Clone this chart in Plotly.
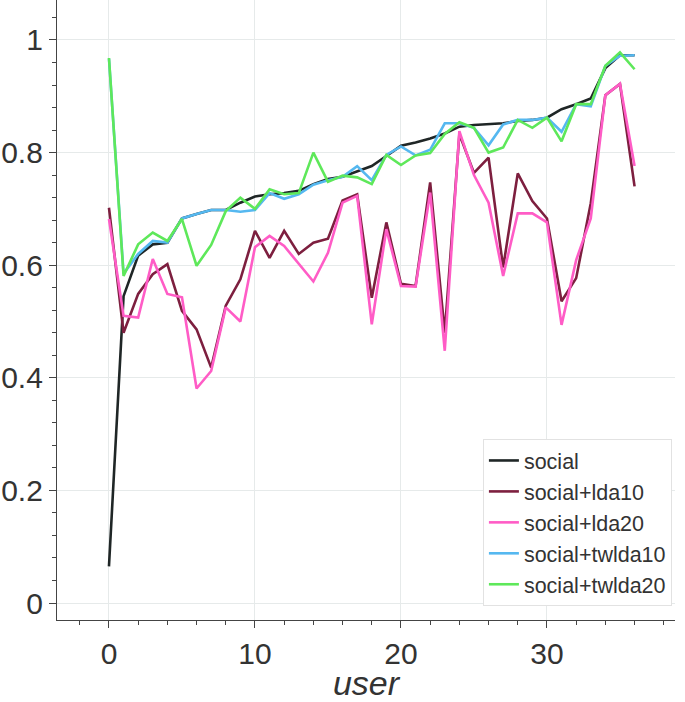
import plotly.graph_objects as go

users = list(range(37))

social = [0.065, 0.545, 0.617, 0.637, 0.640, 0.683, 0.691, 0.698, 0.698, 0.711,
          0.722, 0.726, 0.728, 0.732, 0.744, 0.753, 0.757, 0.767, 0.776, 0.794,
          0.812, 0.818, 0.825, 0.834, 0.846, 0.849, 0.850, 0.852, 0.856, 0.858,
          0.862, 0.877, 0.886, 0.896, 0.950, 0.973, 0.973]
lda10 = [0.702, 0.480, 0.549, 0.584, 0.602, 0.519, 0.486, 0.418, 0.528, 0.575,
         0.661, 0.613, 0.661, 0.620, 0.640, 0.647, 0.715, 0.726, 0.542, 0.676,
         0.567, 0.563, 0.747, 0.480, 0.833, 0.764, 0.791, 0.596, 0.763, 0.714,
         0.683, 0.536, 0.577, 0.710, 0.902, 0.922, 0.740]
lda20 = [0.682, 0.510, 0.507, 0.611, 0.549, 0.543, 0.381, 0.412, 0.525, 0.500,
         0.632, 0.652, 0.634, 0.602, 0.571, 0.622, 0.711, 0.723, 0.495, 0.664,
         0.563, 0.562, 0.729, 0.448, 0.838, 0.760, 0.711, 0.581, 0.692, 0.692,
         0.676, 0.494, 0.609, 0.683, 0.902, 0.922, 0.776]
twlda10 = [0.967, 0.585, 0.620, 0.643, 0.640, 0.683, 0.691, 0.698, 0.698, 0.695,
           0.698, 0.728, 0.718, 0.726, 0.743, 0.751, 0.757, 0.776, 0.751, 0.796,
           0.811, 0.795, 0.805, 0.852, 0.852, 0.844, 0.813, 0.850, 0.858, 0.858,
           0.862, 0.837, 0.886, 0.882, 0.954, 0.972, 0.973]
twlda20 = [0.968, 0.581, 0.637, 0.658, 0.643, 0.682, 0.599, 0.636, 0.696, 0.720,
           0.700, 0.735, 0.726, 0.728, 0.800, 0.748, 0.759, 0.756, 0.744, 0.796,
           0.778, 0.795, 0.799, 0.833, 0.854, 0.844, 0.800, 0.809, 0.858, 0.844,
           0.862, 0.820, 0.886, 0.886, 0.954, 0.978, 0.948]

names = ["social", "social+lda10", "social+lda20", "social+twlda10", "social+twlda20"]
colors = ["#1f2626", "#7d1f3f", "#ff5cc6", "#55b8f0", "#5ee85a"]
series = [social, lda10, lda20, twlda10, twlda20]

fig = go.Figure()
for name, color, vals in zip(names, colors, series):
    fig.add_trace(go.Scatter(x=users, y=vals, mode="lines", name=name,
                             line=dict(color=color, width=2.6)))

font_family = "Liberation Sans, Arial, sans-serif"
axis_common = dict(
    showline=True, linecolor="#444444", linewidth=1.2,
    ticks="outside", ticklen=7, tickwidth=1.2, tickcolor="#444444",
    showgrid=True, gridcolor="#e6eaea", gridwidth=1,
    zeroline=False, automargin=False,
    tickfont=dict(family=font_family, size=30, color="#333333"),
)

fig.update_layout(
    width=685, height=702,
    margin=dict(l=57, r=10, t=0, b=82),
    paper_bgcolor="white", plot_bgcolor="white",
    font=dict(family=font_family, color="#333333"),
    showlegend=True,
    legend=dict(
        x=0.995, y=0.0226, xanchor="right", yanchor="bottom",
        bgcolor="white", bordercolor="#e2e2e2", borderwidth=1,
        font=dict(family=font_family, size=21.5, color="#333333"),
    ),
)
fig.update_xaxes(
    range=[-3.56, 38.77], tickmode="linear", tick0=0, dtick=10,
    minor=dict(ticks="outside", ticklen=4, tickwidth=1, tickcolor="#444444",
               dtick=2, tick0=0, showgrid=False),
    title=dict(text="<i>user</i>", font=dict(family=font_family, size=34, color="#333333"),
               standoff=12),
    **axis_common,
)
fig.update_yaxes(
    range=[-0.0302, 1.071], tickmode="linear", tick0=0, dtick=0.2,
    minor=dict(ticks="outside", ticklen=4, tickwidth=1, tickcolor="#444444",
               dtick=0.04, tick0=0, showgrid=False),
    **axis_common,
)

fig.write_html("out.html", config={"displayModeBar": False},
               post_script="document.body.style.margin='0px';")
